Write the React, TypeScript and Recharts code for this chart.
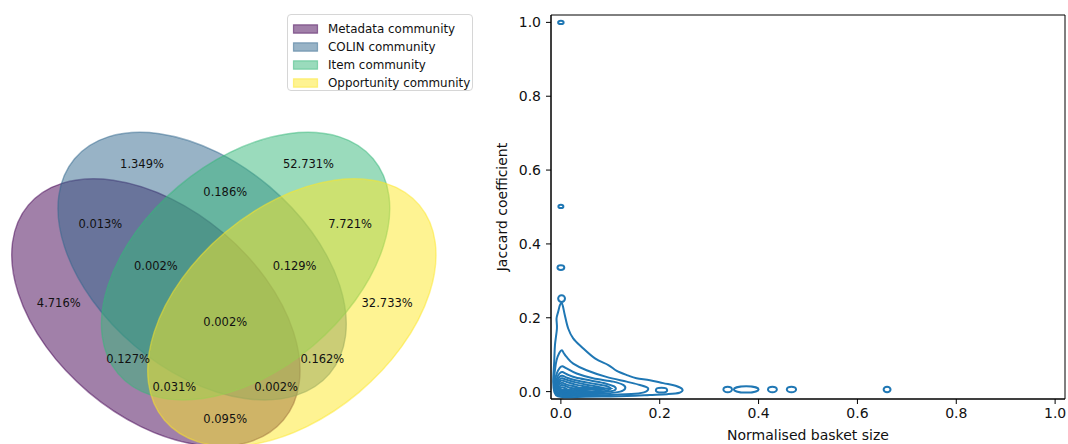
import React from 'react';
import { ScatterChart, Scatter, XAxis, YAxis, ReferenceArea } from 'recharts';

const FONT = '"DejaVu Sans", Verdana, sans-serif';

// ---------------- Venn diagram data ----------------
const setNames = ['Metadata community', 'COLIN community', 'Item community', 'Opportunity community'];
const setColors = ['#440154', '#31688e', '#35b779', '#fde725'];
const ellipseCx = [0.35, 0.45, 0.544, 0.644];
const ellipseCy = [0.4, 0.5, 0.5, 0.4];
const ellipseW = [0.72, 0.72, 0.72, 0.72];
const ellipseH = [0.45, 0.45, 0.45, 0.45];
const ellipseAngle = [140, 140, 40, 40];

const regionKeys = ['0001', '0010', '0011', '0100', '0101', '0110', '0111', '1000', '1001', '1010', '1011', '1100', '1101', '1110', '1111'];
const regionX = [0.85, 0.68, 0.77, 0.32, 0.71, 0.5, 0.65, 0.14, 0.5, 0.29, 0.39, 0.23, 0.61, 0.35, 0.5];
const regionY = [0.42, 0.72, 0.59, 0.72, 0.3, 0.66, 0.5, 0.42, 0.17, 0.3, 0.24, 0.59, 0.24, 0.5, 0.38];
const regionLabels = ['32.733%', '52.731%', '7.721%', '1.349%', '0.162%', '0.186%', '0.129%', '4.716%', '0.095%', '0.127%', '0.031%', '0.013%', '0.002%', '0.002%', '0.002%'];

// ---------------- KDE contour data ----------------
const xTicks = [0, 0.2, 0.4, 0.6, 0.8, 1.0];
const yTicks = [0, 0.2, 0.4, 0.6, 0.8, 1.0];

const contour1: [number, number][] = [
  [0.0015, 0.24], [0.004, 0.232], [0.008, 0.207], [0.0148, 0.171], [0.0249, 0.144], [0.042, 0.121],
  [0.069, 0.09], [0.096, 0.072], [0.113, 0.056], [0.135, 0.044], [0.153, 0.036], [0.18, 0.031],
  [0.207, 0.023], [0.232, 0.016], [0.246, 0.006], [0.24, -0.003], [0.215, -0.007], [0.18, -0.009],
  [0.15, -0.011], [0.1, -0.013], [0.05, -0.014], [0.01, -0.015], [-0.006, -0.013], [-0.013, -0.002],
  [-0.0156, 0.026], [-0.0135, 0.081], [-0.012, 0.126], [-0.008, 0.171], [-0.0088, 0.198],
  [-0.0055, 0.216], [-0.002, 0.234],
];
const contour2: [number, number][] = [
  [0.002, 0.112], [0.006, 0.104], [0.0115, 0.094], [0.025, 0.076], [0.052, 0.058], [0.092, 0.04],
  [0.133, 0.027], [0.16, 0.018], [0.176, 0.01], [0.172, 0.0], [0.15, -0.006], [0.1, -0.009],
  [0.05, -0.01], [0.01, -0.012], [-0.006, -0.011], [-0.012, 0.0], [-0.014, 0.031], [-0.012, 0.058],
  [-0.0088, 0.085], [-0.003, 0.105],
];
const contour3: [number, number][] = [
  [0.003, 0.069], [0.0115, 0.063], [0.032, 0.049], [0.065, 0.036], [0.106, 0.027], [0.126, 0.018],
  [0.13, 0.008], [0.12, 0.0], [0.09, -0.005], [0.05, -0.007], [0.01, -0.009], [-0.006, -0.008],
  [-0.011, 0.0], [-0.012, 0.03], [-0.008, 0.05], [-0.002, 0.065],
];
const contour4: [number, number][] = [
  [0.003, 0.053], [0.012, 0.047], [0.03, 0.038], [0.06, 0.03], [0.09, 0.022], [0.11, 0.012],
  [0.105, 0.002], [0.07, -0.003], [0.03, -0.006], [0.0, -0.007], [-0.009, -0.003], [-0.011, 0.02],
  [-0.007, 0.04], [-0.002, 0.05],
];
const contour5: [number, number][] = [
  [0.003, 0.043], [0.012, 0.038], [0.03, 0.031], [0.06, 0.023], [0.09, 0.016], [0.1, 0.009],
  [0.09, 0.002], [0.05, -0.002], [0.01, -0.005], [-0.007, -0.003], [-0.01, 0.015], [-0.006, 0.033],
  [-0.002, 0.041],
];
const contour6: [number, number][] = [
  [0.003, 0.036], [0.012, 0.032], [0.03, 0.025], [0.05, 0.019], [0.075, 0.013], [0.088, 0.007],
  [0.07, 0.002], [0.04, 0.0], [0.01, -0.003], [-0.006, -0.002], [-0.009, 0.012], [-0.005, 0.028],
  [-0.001, 0.035],
];
const contour7: [number, number][] = [
  [0.003, 0.03], [0.012, 0.026], [0.03, 0.019], [0.05, 0.014], [0.065, 0.009], [0.05, 0.004],
  [0.02, 0.001], [0.0, -0.001], [-0.006, 0.005], [-0.007, 0.018], [-0.001, 0.029],
];
const contour8: [number, number][] = [
  [0.002, 0.024], [0.012, 0.019], [0.03, 0.013], [0.042, 0.008], [0.025, 0.004], [0.005, 0.001],
  [-0.004, 0.004], [-0.005, 0.016],
];
const contour9: [number, number][] = [
  [0.002, 0.018], [0.015, 0.012], [0.025, 0.008], [0.012, 0.004], [0.0, 0.003], [-0.003, 0.01],
];
const contour10: [number, number][] = [
  [0.002, 0.012], [0.01, 0.009], [0.012, 0.006], [0.004, 0.005], [-0.001, 0.007],
];
const contour11: [number, number][] = [
  [0.03, 0.0095], [0.07, 0.0098], [0.104, 0.0085], [0.07, 0.0068], [0.03, 0.007],
];
const contours = [contour1, contour2, contour3, contour4, contour5, contour6, contour7, contour8, contour9, contour10, contour11];

const loopX = [0.0, 0.0, 0.0, 0.0014, 0.2036, 0.3375, 0.375, 0.428, 0.4665, 0.66];
const loopY = [1.0, 0.5016, 0.336, 0.252, 0.004, 0.006, 0.006, 0.006, 0.006, 0.006];
const loopRx = [0.0055, 0.005, 0.0069, 0.0069, 0.0115, 0.0087, 0.025, 0.009, 0.0094, 0.007];
const loopRy = [0.0045, 0.0045, 0.0065, 0.0092, 0.0065, 0.0075, 0.0085, 0.0075, 0.0075, 0.0075];

const CONTOUR_COLOR = '#1f77b4';
const LW = 2;

// ---------------- helpers ----------------
type P = { x: number; y: number };

function closedSmoothPath(pts: P[]) {
  const n = pts.length;
  if (!n) return '';
  let d = `M${pts[0].x},${pts[0].y}`;
  for (let i = 0; i < n; i++) {
    const p0 = pts[(i - 1 + n) % n];
    const p1 = pts[i];
    const p2 = pts[(i + 1) % n];
    const p3 = pts[(i + 2) % n];
    const c1x = p1.x + (p2.x - p0.x) / 6;
    const c1y = p1.y + (p2.y - p0.y) / 6;
    const c2x = p2.x - (p3.x - p1.x) / 6;
    const c2y = p2.y - (p3.y - p1.y) / 6;
    d += ` C${c1x},${c1y} ${c2x},${c2y} ${p2.x},${p2.y}`;
  }
  return d + ' Z';
}

// ellipse from three scaled points: centre, end of first semi-axis, end of second semi-axis
function ellipseFrom3(points: P[], style: any) {
  if (!points || points.length < 3) return <g />;
  const [c, a, b] = points;
  const rx = Math.hypot(a.x - c.x, a.y - c.y);
  const ry = Math.hypot(b.x - c.x, b.y - c.y);
  const ang = (Math.atan2(a.y - c.y, a.x - c.x) * 180) / Math.PI;
  return <ellipse cx={c.x} cy={c.y} rx={rx} ry={ry} transform={`rotate(${ang} ${c.x} ${c.y})`} {...style} />;
}

const NoShape = () => <g />;

// data tables built from the arrays
const vennEllipses = setNames.map((name, i) => {
  const t = (ellipseAngle[i] * Math.PI) / 180;
  const a = ellipseW[i] / 2;
  const b = ellipseH[i] / 2;
  return {
    name,
    color: setColors[i],
    data: [
      { x: ellipseCx[i], y: ellipseCy[i] },
      { x: ellipseCx[i] + a * Math.cos(t), y: ellipseCy[i] + a * Math.sin(t) },
      { x: ellipseCx[i] - b * Math.sin(t), y: ellipseCy[i] + b * Math.cos(t) },
    ],
  };
});

const vennLabelData = regionKeys.map((k, i) => ({ key: k, x: regionX[i], y: regionY[i], label: regionLabels[i] }));

const contourData = contours.map((c) => c.map(([x, y]) => ({ x, y })));
const loopData = loopX.map((x, i) => [
  { x, y: loopY[i] },
  { x: x + loopRx[i], y: loopY[i] },
  { x, y: loopY[i] + loopRy[i] },
]);

const VennLabel = (props: any) => {
  const { cx, cy, payload } = props;
  return (
    <text x={cx} y={cy} textAnchor="middle" dominantBaseline="central" fontSize={11.5} fontFamily={FONT} fill="#111">
      {payload.label}
    </text>
  );
};

const Legend4 = () => (
  <div
    style={{
      position: 'absolute',
      left: 287,
      top: 14,
      width: 186,
      height: 77,
      border: '1px solid #d6d6d6',
      borderRadius: 4,
      background: 'rgba(255,255,255,0.8)',
      boxSizing: 'border-box',
      fontFamily: FONT,
      fontSize: 11.9,
      color: '#111',
    }}
  >
    {setNames.map((n, i) => (
      <div key={n} style={{ position: 'absolute', left: 0, top: 4.5 + i * 18, height: 18, display: 'flex', alignItems: 'center' }}>
        <svg width={40} height={18} style={{ display: 'block' }}>
          <rect x={5.5} y={4.8} width={24} height={8.4} fill={setColors[i]} fillOpacity={0.5} stroke={setColors[i]} strokeOpacity={0.5} strokeWidth={1.2} />
        </svg>
        <span style={{ whiteSpace: 'nowrap', lineHeight: '18px' }}>{n}</span>
      </div>
    ))}
  </div>
);

const YLabel = (props: any) => {
  const vb = props.viewBox || {};
  const x = vb.x + 1;
  const y = vb.y + vb.height / 2;
  return (
    <text x={x} y={y} transform={`rotate(-90 ${x} ${y})`} textAnchor="middle" dominantBaseline="central" fontSize={14} fontFamily={FONT} fill="#111">
      Jaccard coefficient
    </text>
  );
};

const XLabel = (props: any) => {
  const vb = props.viewBox || {};
  const x = vb.x + vb.width / 2;
  const y = vb.y + 41;
  return (
    <text x={x} y={y} textAnchor="middle" fontSize={14} fontFamily={FONT} fill="#111">
      Normalised basket size
    </text>
  );
};

const fmt = (v: number) => v.toFixed(1);
const DOMAIN: [number, number] = [-0.02, 1.02];

export default function App() {
  return (
    <div style={{ position: 'absolute', left: 0, top: 0, width: 1068, height: 444, overflow: 'hidden', background: '#fff' }}>
      {/* Venn diagram */}
      <div style={{ position: 'absolute', left: -6.5, top: 34 }}>
        <ScatterChart width={462.5} height={464.3} margin={{ top: 0, right: 0, bottom: 0, left: 0 }}>
          <XAxis type="number" dataKey="x" domain={[0, 1]} hide allowDataOverflow />
          <YAxis type="number" dataKey="y" domain={[0, 1]} hide allowDataOverflow />
          {vennEllipses.map((e) => (
            <Scatter
              key={e.name}
              name={e.name}
              data={e.data}
              isAnimationActive={false}
              shape={NoShape}
              line={(p: any) =>
                ellipseFrom3(p.points, {
                  fill: e.color,
                  fillOpacity: 0.5,
                  stroke: e.color,
                  strokeOpacity: 0.5,
                  strokeWidth: 1.4,
                })
              }
            />
          ))}
          <Scatter data={vennLabelData} isAnimationActive={false} shape={VennLabel} />
        </ScatterChart>
      </div>
      <Legend4 />

      {/* KDE contour plot */}
      <div style={{ position: 'absolute', left: 0, top: 0 }}>
        <ScatterChart width={1068} height={444} margin={{ top: 15, right: 3, bottom: 0, left: 501 }}>
          <XAxis
            type="number"
            dataKey="x"
            domain={DOMAIN}
            allowDataOverflow
            ticks={xTicks}
            tickFormatter={fmt}
            height={45}
            tickSize={5}
            tickMargin={4}
            axisLine={{ stroke: '#000', strokeWidth: 1 }}
            tickLine={{ stroke: '#000', strokeWidth: 1 }}
            tick={{ fill: '#111', fontSize: 14, fontFamily: FONT }}
            label={<XLabel />}
          />
          <YAxis
            type="number"
            dataKey="y"
            domain={DOMAIN}
            allowDataOverflow
            ticks={yTicks}
            tickFormatter={fmt}
            width={50}
            tickSize={5}
            tickMargin={5}
            axisLine={{ stroke: '#000', strokeWidth: 1 }}
            tickLine={{ stroke: '#000', strokeWidth: 1 }}
            tick={{ fill: '#111', fontSize: 14, fontFamily: FONT }}
            label={<YLabel />}
          />
          <ReferenceArea
            x1={DOMAIN[0]}
            x2={DOMAIN[1]}
            y1={DOMAIN[0]}
            y2={DOMAIN[1]}
            fill="none"
            fillOpacity={0}
            stroke="#000"
            strokeWidth={1}
            ifOverflow="visible"
          />
          {contourData.map((d, i) => (
            <Scatter
              key={`c${i}`}
              data={d}
              isAnimationActive={false}
              shape={NoShape}
              line={(p: any) => (
                <path d={closedSmoothPath(p.points)} fill="none" stroke={CONTOUR_COLOR} strokeWidth={LW} strokeLinejoin="round" />
              )}
            />
          ))}
          {loopData.map((d, i) => (
            <Scatter
              key={`l${i}`}
              data={d}
              isAnimationActive={false}
              shape={NoShape}
              line={(p: any) => ellipseFrom3(p.points, { fill: 'none', stroke: CONTOUR_COLOR, strokeWidth: LW })}
            />
          ))}
        </ScatterChart>
      </div>
    </div>
  );
}
